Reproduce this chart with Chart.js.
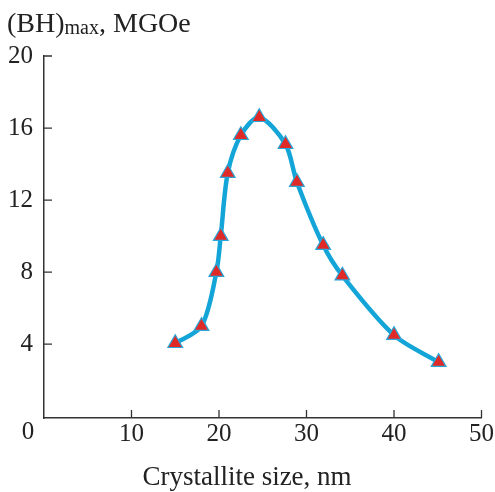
<!DOCTYPE html>
<html><head><meta charset="utf-8">
<script src="https://cdn.jsdelivr.net/npm/chart.js@4"></script>
<style>html,body{margin:0;padding:0;background:#fff}#wrap{width:495px;height:492px}</style>
</head><body><div id="wrap"><canvas id="c" width="495" height="492"></canvas></div>
<script>
const crystalliteSize = [15, 18, 19.7, 20.2, 21, 22.5, 24.6, 27.6, 28.9, 31.9, 34.1, 40, 45.1];
const bhMax = [4.05, 5.0, 8.0, 10.0, 13.5, 15.6, 16.6, 15.1, 13.0, 9.5, 7.8, 4.5, 3.0];
const xTicks = [0, 10, 20, 30, 40, 50];
const yTicks = [4, 8, 12, 16, 20];
const xTitle = 'Crystallite size, nm';
const FONT = '"Liberation Serif", "DejaVu Serif", serif';

const extras = {
  id: 'extras',
  afterDraw(chart) {
    const ctx = chart.ctx, xs = chart.scales.x, ys = chart.scales.y;
    const x0 = xs.left, yb = ys.bottom;
    ctx.save();
    ctx.strokeStyle = '#333'; ctx.lineWidth = 1.3;
    ctx.beginPath();
    xTicks.forEach(v => { if (v === 0) return; const p = xs.getPixelForValue(v); ctx.moveTo(p, yb); ctx.lineTo(p, yb - 8); });
    yTicks.forEach(v => { const p = ys.getPixelForValue(v); ctx.moveTo(x0, p); ctx.lineTo(x0 + 8, p); });
    ctx.stroke();
    ctx.fillStyle = '#222';
    ctx.font = '25px ' + FONT;
    ctx.textAlign = 'center'; ctx.textBaseline = 'middle';
    ctx.fillText('0', xs.getPixelForValue(0) - 16, yb + 14);
    // x title
    ctx.textBaseline = 'alphabetic';
    ctx.font = '27px ' + FONT;
    ctx.fillText(xTitle, 247, 485);
    // y title
    ctx.textAlign = 'left';
    ctx.font = '28px ' + FONT;
    let x = 7;
    ctx.fillText('(BH)', x, 32); x += ctx.measureText('(BH)').width;
    ctx.font = '20px ' + FONT;
    ctx.fillText('max', x, 34); x += ctx.measureText('max').width;
    ctx.font = '28px ' + FONT;
    ctx.fillText(', MGOe', x, 32);
    ctx.restore();
  }
};

new Chart(document.getElementById('c'), {
  type: 'line',
  data: {
    datasets: [{
      data: crystalliteSize.map((x, i) => ({x, y: bhMax[i]})),
      borderColor: '#14a5d8',
      borderWidth: 4.5,
      tension: 0.3,
      pointStyle: 'triangle',
      pointRadius: 8.5,
      pointBackgroundColor: '#e02a28',
      pointBorderColor: '#2aa6d8',
      pointBorderWidth: 1.2,
      fill: false
    }]
  },
  options: {
    responsive: false,
    animation: false,
    events: [],
    layout: { padding: { top: 56, right: 10, left: 0, bottom: 0 } },
    plugins: { legend: { display: false }, tooltip: { enabled: false } },
    scales: {
      x: {
        type: 'linear', min: 0, max: 50,
        afterBuildTicks(s) { s.ticks = xTicks.map(v => ({value: v})); },
        afterFit(s) { s.height = 74; },
        grid: { display: false, drawTicks: false },
        border: { display: true, color: '#333', width: 1.5 },
        ticks: { padding: 1, color: '#222', font: { family: FONT, size: 25 },
          callback: v => v === 0 ? '' : String(v) }
      },
      y: {
        type: 'linear', min: -0.1, max: 20,
        afterBuildTicks(s) { s.ticks = yTicks.map(v => ({value: v})); },
        afterFit(s) { s.width = 44; },
        grid: { display: false, drawTicks: false },
        border: { display: true, color: '#333', width: 1.5 },
        ticks: { padding: 11, color: '#222', font: { family: FONT, size: 25 } }
      }
    }
  },
  plugins: [extras]
});
</script></body></html>
